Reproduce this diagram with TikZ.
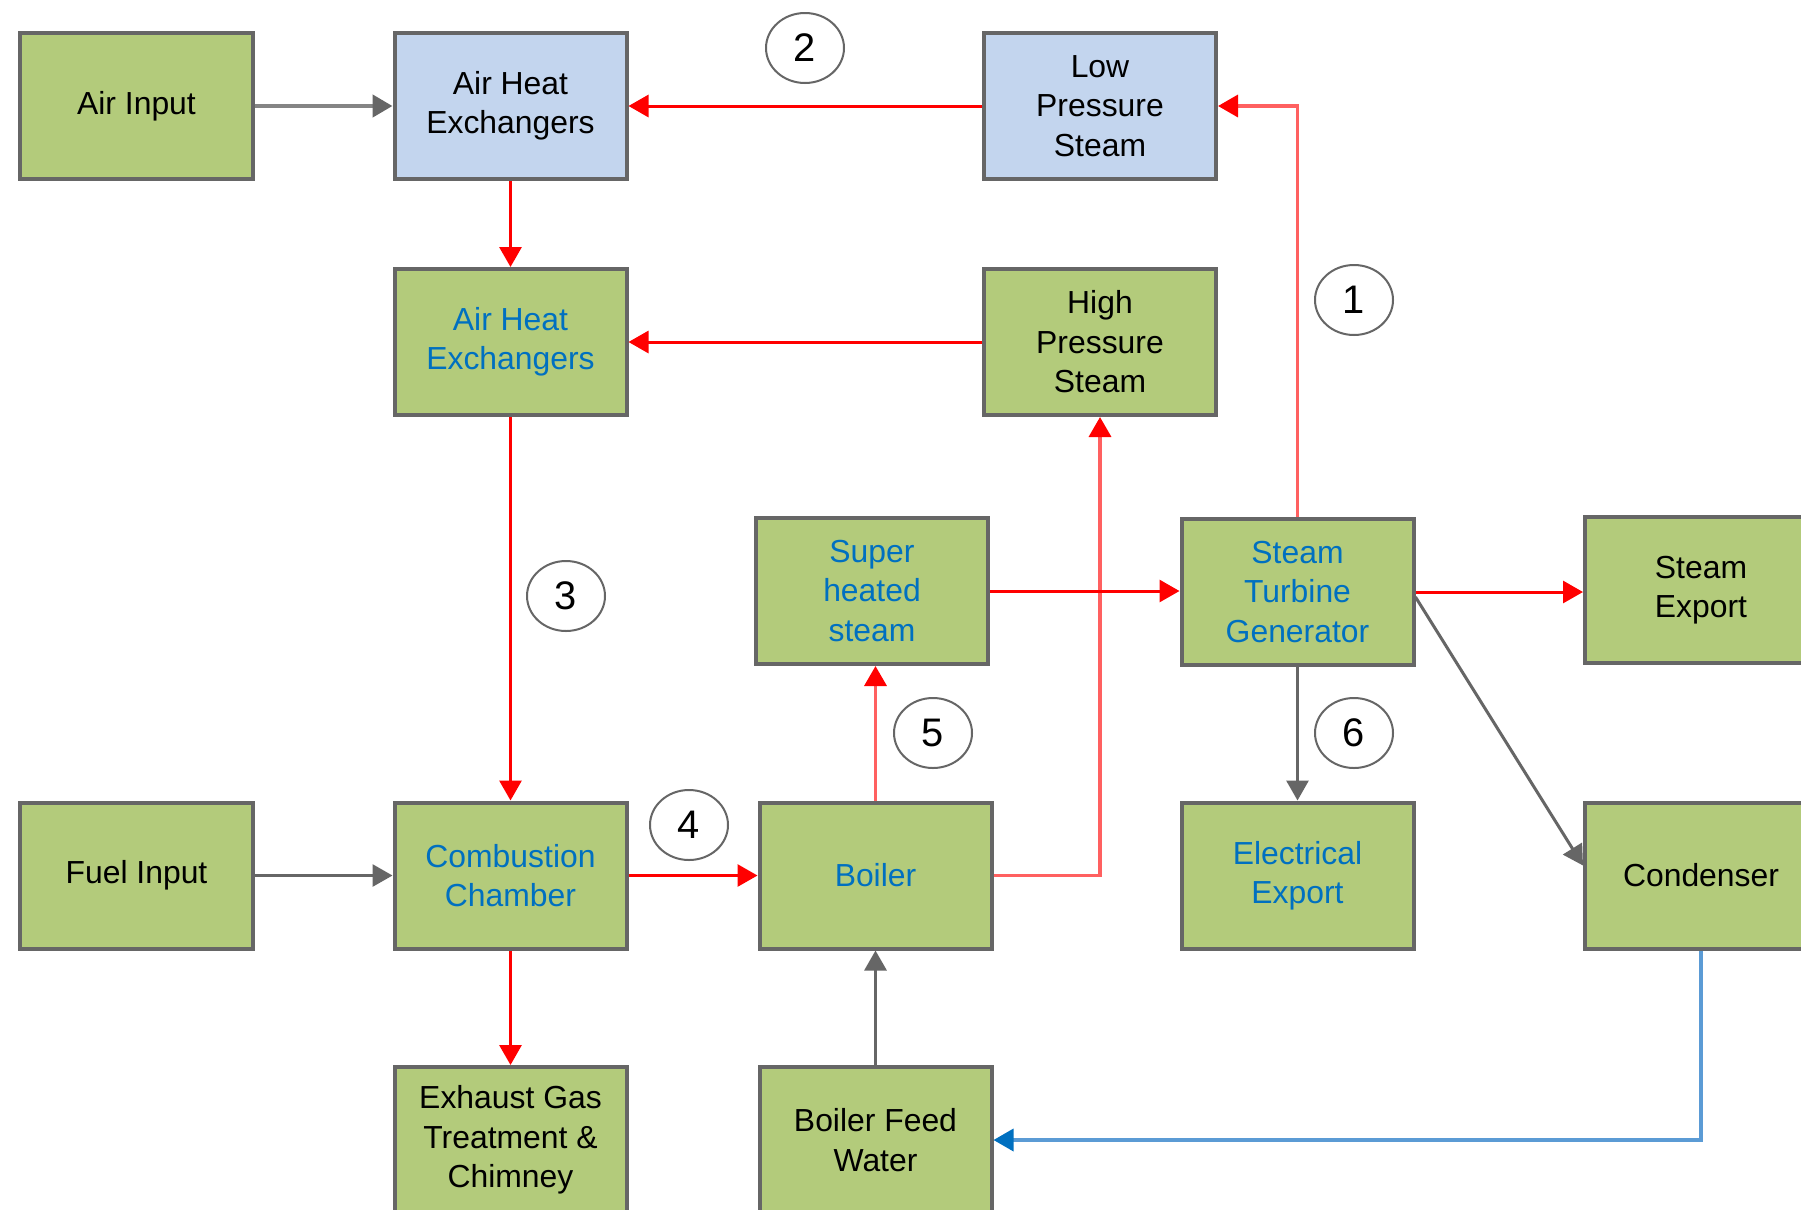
\documentclass[tikz,border=0pt]{standalone}
\usepackage{fontspec}
\setmainfont{Liberation Sans}
\usetikzlibrary{arrows.meta,shapes.geometric}
\definecolor{boxgreen}{HTML}{B3CB7B}
\definecolor{boxblue}{HTML}{C3D5EE}
\definecolor{edgegray}{HTML}{666666}
\definecolor{txtblue}{HTML}{0070C0}
\definecolor{flowred}{HTML}{FF0000}
\definecolor{lightred}{HTML}{FF6060}
\definecolor{waterblue}{HTML}{5B9BD5}
\begin{document}
\begin{tikzpicture}[x=1bp,y=-1bp,
  box/.style={draw=edgegray,line width=4bp,minimum width=232bp,minimum height=146bp,
    inner sep=0pt,align=center,font=\fontsize{32}{39.6}\selectfont},
  gbox/.style={box,fill=boxgreen},
  bbox/.style={box,fill=boxblue},
  btxt/.style={text=txtblue},
  num/.style={ellipse,draw=edgegray,line width=2bp,fill=white,minimum width=78bp,
    minimum height=70bp,inner sep=0pt,font=\fontsize{40}{40}\selectfont},
  tip/.style={-{Triangle[length=20bp,width=22bp]}},
  redarrow/.style={draw=flowred,line width=3bp,tip},
  lightarrow/.style={draw=lightred,line width=3.5bp,-{Triangle[length=20bp,width=22bp,color=flowred]}},
  grayarrow/.style={draw=edgegray,line width=3bp,tip},
  airarrow/.style={draw=edgegray!80,line width=4.5bp,-{Triangle[length=20bp,width=22bp,color=edgegray]}},
  bluearrow/.style={draw=waterblue,line width=3.5bp,-{Triangle[length=20bp,width=22bp,color=txtblue]}}
]
\useasboundingbox (0,0) rectangle (1801,1209);
\fill[white] (0,0) rectangle (1801,1209);

% boxes
\node[gbox] (airin) at (136.5,106) {Air Input};
\node[bbox] (ahe1) at (510.5,106) {Air Heat\\Exchangers};
\node[bbox] (lps) at (1100,106) {Low\\Pressure\\Steam};
\node[gbox,btxt] (ahe2) at (510.5,342) {Air Heat\\Exchangers};
\node[gbox] (hps) at (1100,342) {High\\Pressure\\Steam};
\node[gbox,btxt] (super) at (872,591) {Super\\heated\\steam};
\node[gbox,btxt] (stg) at (1297.5,592) {Steam\\Turbine\\Generator};
\node[gbox] (sexp) at (1701,590) {Steam\\Export};
\node[gbox] (fuel) at (136.5,875.5) {Fuel Input};
\node[gbox,btxt] (comb) at (510.5,875.5) {Combustion\\Chamber};
\node[gbox,btxt] (boiler) at (875.5,875.5) {Boiler};
\node[gbox,btxt] (elec) at (1297.5,875.5) {Electrical\\Export};
\node[gbox] (cond) at (1701,875.5) {Condenser};
\node[gbox] (exh) at (510.5,1140) {Exhaust Gas\\Treatment \&\\Chimney};
\node[gbox] (bfw) at (875.5,1140) {Boiler Feed\\Water};

% connectors
\draw[airarrow] (airin) -- (ahe1);
\draw[redarrow] (lps) -- (ahe1);
\draw[redarrow] (ahe1) -- (ahe2);
\draw[redarrow] (hps) -- (ahe2);
\draw[redarrow] (ahe2) -- (comb);
\draw[grayarrow] (fuel) -- (comb);
\draw[redarrow] (comb) -- (boiler);
\draw[redarrow] (comb) -- (exh);
\draw[lightarrow] (boiler.north) -- (boiler.north |- super.south);
\draw[lightarrow] (boiler.east) -| (hps.south);
\draw[redarrow] (super.east) -- (super.east -| stg.west);
\draw[lightarrow] (stg.north) |- (lps.east);
\draw[redarrow] (stg.east) -- (stg.east -| sexp.west);
\draw[grayarrow] (stg) -- (elec);
\draw[grayarrow] ([yshift=-5bp]stg.east) -- ([yshift=10bp]cond.west);
\draw[bluearrow] (cond.south) |- (bfw.east);
\draw[grayarrow] (bfw) -- (boiler);

% numbers
\node[num] (n1) at (1354,300) {1};
\node[num] (n2) at (805,48) {2};
\node[num] (n3) at (566,596) {3};
\node[num] (n4) at (689,825) {4};
\node[num] (n5) at (933,733) {5};
\node[num] (n6) at (1354,733) {6};
\end{tikzpicture}
\end{document}
